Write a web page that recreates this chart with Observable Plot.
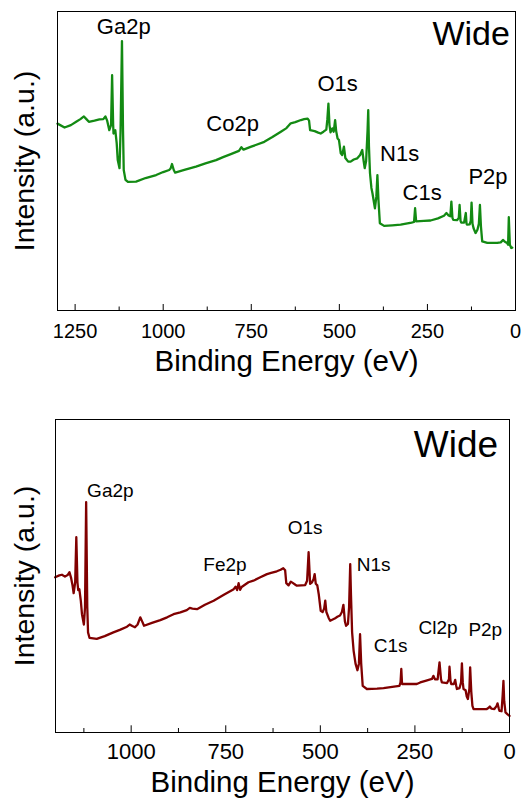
<!DOCTYPE html>
<html>
<head>
<meta charset="utf-8">
<script src="https://cdn.jsdelivr.net/npm/d3@7"></script>
<script src="https://cdn.jsdelivr.net/npm/@observablehq/plot@0.6"></script>
<style>
  html, body { margin: 0; padding: 0; background: #fff; }
  #wrap { width: 524px; height: 798px; position: relative; overflow: hidden; }
  #top { position: absolute; left: 0; top: 0; }
  #bottom { position: absolute; left: 0; top: 400px; }
</style>
</head>
<body>
<div id="wrap"><div id="top"></div><div id="bottom"></div></div>
<script>
// ---------- Data: top panel (green, Co) ----------
const topEnergy = [1300,1280,1262,1247,1235,1225,1218,1211,1195,1181,1170,1164,1159,1153,1148,1145,1142,1141,1136,1132,1129,1124,1121,1117,1114,1112,1107,1100,1077,1050,1020,1000,983,979,975,970,966,940,907,880,850,830,808,785,778,772,750,713,690,666,650,638,625,609,600,590,586,583,570,560,553,545,537,534,531,528,525,520,516,512,509,505,501,496,492,487,483,475,468,459,449,441,435,431,428,424,420,418,416,413,409,406,399,395,392,389,385,373,350,326,295,288,285,282,260,241,220,203,196,190,185,182,179,176.6,166,161,158.7,156,154,146,141,139,137,130,127,124.7,122,119,113.4,108,104,101,98,94.5,80,52,42,35,31,24,21,19,16,12,9,0];
const topIntensity = [62.5,61.2,62.0,63.1,64.0,64.9,64.0,63.1,63.5,63.9,64.0,64.9,63.5,60.3,62,78.7,62,59.2,60.3,56,50.3,47.6,60,90.1,60,47,43.7,43.0,43.1,44.3,45.3,46.3,47,47.5,49,47,46.1,47,48.1,49.2,50.3,51.3,52.3,53.4,54.6,53.8,54.8,56.4,58,59.8,61,62.6,63,63.7,64,64.2,63.5,60.3,60,59.5,59.2,59.8,60.5,64,69.2,62,59.6,60.9,59.8,63.7,60,57.5,57,52.6,52,54.8,51,49.8,49.8,50.5,50.9,52,53.7,50,47.6,50,60,67,55,45.9,41,39.2,34.2,38,45.3,37,29.2,28.3,28.5,28.7,29.4,29.6,34.2,29.8,30.0,30.1,30.8,31.7,32.6,31.8,31.5,36.4,31,30.3,30.2,31,35.3,30,29.4,29.4,32.6,29,28.7,28.8,30,36.1,29,27.5,25.9,27,29,35.3,28,23.1,22.6,22.6,22.8,23.6,23.1,22.6,22,31.2,22,20.9,21];
const topLabelNames = ["Ga2p","Co2p","O1s","N1s","C1s","P2p"];
const topLabelEnergy = [1112,803,505,329,265,78];
const topLabelIntensity = [94.8,62.3,75.9,52.3,39.2,44.8];
const topTitle = ["Wide"];
const topTitleEnergy = [16];
const topTitleIntensity = [92.6];
const topMajorTicks = [0,250,500,750,1000,1250];
const topMinorTicks = [125,375,625,875,1125];

// ---------- Data: bottom panel (dark red, Fe) ----------
const bottomEnergy = [1201,1190,1183,1175,1168,1163,1159,1155,1152,1148,1145,1142,1140,1137,1133,1130,1125,1122,1119,1116,1114,1110,1091,1070,1047,1030,1011,1004,997,990,983,976,971,966,945,923,905,888,870,853,845,838,826,805,782,755,729,724,720,716,712,708,690,677,660,641,630,615,605,598,593,590,584,578,573,566,562,550,540,535,531,527,522,518,515,512,508,504,499,494,490,487,484,478,474,462,455,448,443,439,435,432,427,424,421,419,416,412,407,402,398,395,392,388,377,350,333,310,291,288,286,284,265,245,236,220,205,201,197,190,185,181,178.7,165,160,158.6,156,154,147,143.5,141,139,132,128,125.8,123.5,121.6,116,113,110,106,104,101,98,95,75,60,55,52,48,40,34,31.7,28,26.4,21,18,16,14,10.6,5,0];
const bottomIntensity = [49.6,50.2,50.4,49.8,50.3,51.2,49.5,47,44.5,48,62.4,48,45.5,45.8,42,37.8,34.5,40,73.6,40,32,30.2,29.9,30.8,32,32.8,33.8,34.5,34,33.6,34.5,36.8,35.5,34.1,35,35.9,36.8,37.8,38.4,39.1,39.8,39.6,39.4,40.8,42.1,44,45.8,46.6,45.5,47.7,45.6,46.5,48,48.5,49.5,50.6,51,51.5,52,52.5,51.8,47.7,47,48.2,47.8,47.2,46.9,47,47.1,48.5,57.6,47.5,48,49,50.6,47.5,47,44,38.9,38.5,39.5,42.1,38.5,36.6,35.7,36.4,37,37.4,38.5,40.8,35.5,34.1,34.7,40,53.8,44,32,26.1,22,19.9,22,31.4,22,14.9,13.9,14,14.2,14.6,14.9,16,20.3,15.5,15.5,15.5,16,16.6,17.1,18.1,17,17,22.4,17,16,15.8,17,21,16.5,15.5,15.5,16.8,15,13.9,14.2,16,22.1,16,13.9,13.5,11.5,10.7,14,20.8,13,8.5,7.5,7.5,7.5,7.9,8.3,7.6,7.5,8.5,9.3,7.5,6.9,6.8,12,16.5,10,6.4,5.8,5.3];
const bottomLabelNames = ["Ga2p","Fe2p","O1s","N1s","C1s","Cl2p","P2p"];
const bottomLabelEnergy = [1055,752,540,359,314,189,64];
const bottomLabelIntensity = [77.1,53.6,65.4,53.5,27.7,33.4,32.8];
const bottomTitle = ["Wide"];
const bottomTitleEnergy = [30];
const bottomTitleIntensity = [91.7];
const bottomMajorTicks = [0,250,500,750,1000];
const bottomMinorTicks = [125,375,625,875,1125];

const FONT = "'Liberation Sans', Arial, Helvetica, sans-serif";

function panel(cfg) {
  const plotH = cfg.height - cfg.marginTop - cfg.marginBottom;
  const pxPerUnit = plotH / 100;
  return Plot.plot({
    width: 524,
    height: cfg.height,
    marginLeft: cfg.marginLeft,
    marginRight: cfg.marginRight,
    marginTop: cfg.marginTop,
    marginBottom: cfg.marginBottom,
    style: {fontFamily: FONT, color: "#000", background: "#fff"},
    x: {domain: cfg.xDomain},
    y: {domain: [0, 100]},
    marks: [
      Plot.axisX({
        ticks: cfg.major, tickSize: 0, tickPadding: cfg.tickPadding,
        fontSize: cfg.tickFont, tickFormat: d => String(d),
        label: null
      }),
      Plot.axisX({
        ticks: [], tickSize: 0, fontSize: 29.5,
        label: "Binding Energy (eV)", labelAnchor: "center", labelArrow: "none",
        labelOffset: cfg.xLabelOffset, tickFormat: () => ""
      }),
      Plot.axisY({
        ticks: [], tickSize: 0, tickFormat: () => "",
        label: "Intensity (a.u.)", labelAnchor: "center", labelArrow: "none",
        labelOffset: cfg.yLabelOffset, fontSize: 28.5
      }),
      Plot.ruleX(cfg.major, {x: d => d, y1: 0, y2: cfg.majorLen / pxPerUnit, stroke: "#000", strokeWidth: 1}),
      Plot.ruleX(cfg.minor.filter(d => d < cfg.xDomain[0]), {x: d => d, y1: 0, y2: cfg.minorLen / pxPerUnit, stroke: "#000", strokeWidth: 1}),
      Plot.line(cfg.energy, {x: cfg.energy, y: cfg.intensity, stroke: cfg.color, strokeWidth: 2.3, curve: "linear"}),
      Plot.text(cfg.labelNames, {x: cfg.labelEnergy, y: cfg.labelIntensity, text: d => d, fontSize: cfg.labelFont, fill: "#000"}),
      Plot.text(cfg.title, {x: cfg.titleEnergy, y: cfg.titleIntensity, text: d => d, fontSize: cfg.titleFont, textAnchor: "end", fill: "#000"}),
      Plot.frame({stroke: "#000", strokeWidth: 1})
    ]
  });
}

document.getElementById("top").appendChild(panel({
  height: 400, marginLeft: 57, marginRight: 9, marginTop: 11, marginBottom: 90,
  xDomain: [1300, 0], major: topMajorTicks, minor: topMinorTicks,
  majorLen: 6, minorLen: 3.5, tickPadding: 13, tickFont: 20,
  xLabelOffset: 60, yLabelOffset: 44,
  energy: topEnergy, intensity: topIntensity, color: "#138a13",
  labelNames: topLabelNames, labelEnergy: topLabelEnergy, labelIntensity: topLabelIntensity, labelFont: 22,
  title: topTitle, titleEnergy: topTitleEnergy, titleIntensity: topTitleIntensity, titleFont: 34
}));

document.getElementById("bottom").appendChild(panel({
  height: 398, marginLeft: 55, marginRight: 15, marginTop: 19, marginBottom: 66,
  xDomain: [1200, 0], major: bottomMajorTicks, minor: bottomMinorTicks,
  majorLen: 6.7, minorLen: 4, tickPadding: 11, tickFont: 22,
  xLabelOffset: 59, yLabelOffset: 42,
  energy: bottomEnergy, intensity: bottomIntensity, color: "#800000",
  labelNames: bottomLabelNames, labelEnergy: bottomLabelEnergy, labelIntensity: bottomLabelIntensity, labelFont: 19,
  title: bottomTitle, titleEnergy: bottomTitleEnergy, titleIntensity: bottomTitleIntensity, titleFont: 37
}));
</script>
</body>
</html>
